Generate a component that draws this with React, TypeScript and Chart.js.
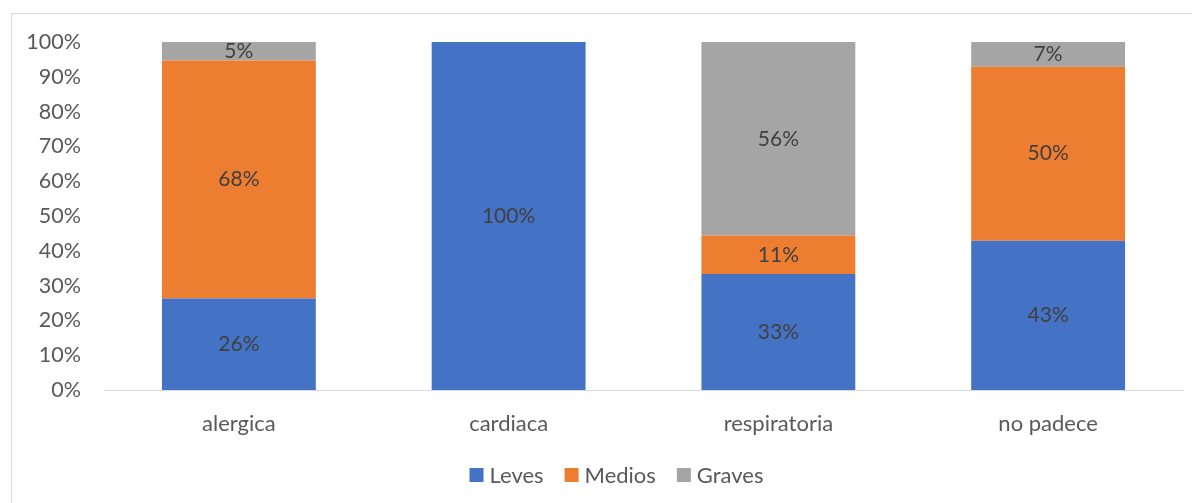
import React, { useEffect, useRef } from "react";
import { Chart, registerables } from "chart.js";

Chart.register(...registerables);

const categories = ["alergica", "cardiaca", "respiratoria", "no padece"];
const leves = [26.3, 100, 33.3, 42.9];
const medios = [68.4, 0, 11.1, 50.0];
const graves = [5.3, 0, 55.6, 7.1];
const yTicks = [0, 10, 20, 30, 40, 50, 60, 70, 80, 90, 100];

const FONT = "Lato, 'Open Sans', sans-serif";
const TICK_COLOR = "#595959";
const LABEL_COLOR = "#404040";

const dataLabels = {
  id: "dataLabels",
  afterDatasetsDraw(chart: any) {
    const ctx = chart.ctx;
    ctx.save();
    ctx.font = `21px ${FONT}`;
    ctx.fillStyle = LABEL_COLOR;
    ctx.textAlign = "center";
    ctx.textBaseline = "middle";
    chart.data.datasets.forEach((ds: any, di: number) => {
      const meta = chart.getDatasetMeta(di);
      meta.data.forEach((el: any, i: number) => {
        const v = ds.data[i];
        if (!v) return;
        const cy = (el.y + el.base) / 2;
        ctx.fillText(Math.round(v) + "%", el.x, cy);
      });
    });
    ctx.restore();
  },
};

const bottomLegend = {
  id: "bottomLegend",
  afterDraw(chart: any) {
    const ctx = chart.ctx;
    const box = 14;
    const gapText = 6;
    const gapItem = 21;
    const cy = 461;
    ctx.save();
    ctx.font = `22px ${FONT}`;
    ctx.textBaseline = "middle";
    ctx.textAlign = "left";
    const items = chart.data.datasets.map((ds: any) => ({
      text: ds.label,
      color: ds.backgroundColor,
      w: ctx.measureText(ds.label).width,
    }));
    const total =
      items.reduce((s: number, it: any) => s + box + gapText + it.w, 0) + gapItem * (items.length - 1);
    let x = chart.width / 2 - total / 2;
    items.forEach((it: any) => {
      ctx.fillStyle = it.color;
      ctx.fillRect(x, cy - box / 2, box, box);
      ctx.fillStyle = TICK_COLOR;
      ctx.fillText(it.text, x + box + gapText, cy + 1);
      x += box + gapText + it.w + gapItem;
    });
    ctx.restore();
  },
};

export default function App() {
  const ref = useRef<HTMLCanvasElement>(null);
  useEffect(() => {
    if (!ref.current) return;
    const chart = new Chart(ref.current, {
      type: "bar",
      data: {
        labels: categories,
        datasets: [
          { label: "Leves", data: leves, backgroundColor: "#4472C4" },
          { label: "Medios", data: medios, backgroundColor: "#ED7D31" },
          { label: "Graves", data: graves, backgroundColor: "#A5A5A5" },
        ],
      },
      options: {
        animation: false,
        responsive: false,
        maintainAspectRatio: false,
        datasets: { bar: { barPercentage: 1, categoryPercentage: 0.5704, borderWidth: 0 } },
        layout: { padding: { left: 0, right: 38, top: 28, bottom: 59 } },
        scales: {
          x: {
            stacked: true,
            grid: { display: true, color: "transparent", drawTicks: false },
            border: { display: true, color: "#d9d9d9", width: 1 },
            ticks: { color: TICK_COLOR, font: { family: FONT, size: 22 }, padding: 21 },
            afterFit(scale: any) {
              scale.height = 54;
            },
          },
          y: {
            stacked: true,
            min: 0,
            max: 100,
            afterBuildTicks(scale: any) {
              scale.ticks = yTicks.map((v) => ({ value: v }));
            },
            grid: { display: false, drawTicks: false },
            border: { display: false },
            ticks: {
              color: TICK_COLOR,
              font: { family: FONT, size: 21.5 },
              padding: 23,
              callback: (v: any) => v + "%",
            },
            afterFit(scale: any) {
              scale.width = 92;
              scale.paddingTop = 0;
              scale.paddingBottom = 0;
            },
          },
        },
        plugins: {
          legend: { display: false },
          tooltip: { enabled: false },
        },
      },
      plugins: [dataLabels, bottomLegend],
    });
    return () => chart.destroy();
  }, []);

  return (
    <div style={{ width: 1192, height: 495, overflow: "hidden", position: "relative" }}>
      <div
        style={{
          position: "absolute",
          left: 3,
          top: 5,
          width: 1209,
          height: 500,
          border: "1px solid #d9d9d9",
          background: "#fff",
        }}
      >
        <canvas ref={ref} width={1209} height={489} style={{ display: "block" }} />
      </div>
    </div>
  );
}
